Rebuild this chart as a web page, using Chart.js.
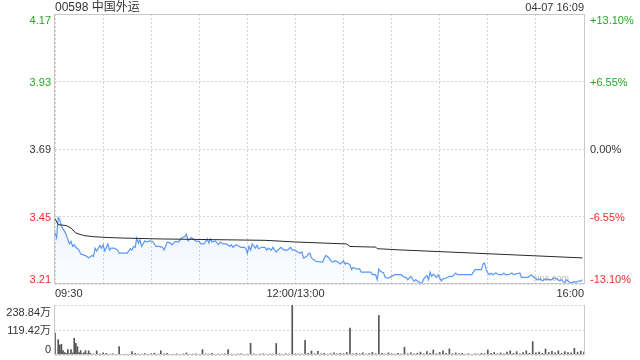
<!DOCTYPE html>
<html>
<head>
<meta charset="utf-8">
<script src="https://cdn.jsdelivr.net/npm/chart.js@4.4.1/dist/chart.umd.min.js"></script>
<style>
  html, body { margin: 0; padding: 0; background: #fff; }
  #wrap { position: relative; width: 640px; height: 360px; overflow: hidden;
          font-family: "Liberation Sans", Arial, "Noto Sans CJK SC", sans-serif; color: #333; }
  #price { position: absolute; left: 0; top: 0; }
  #vol   { position: absolute; left: 0; top: 296px; }
  .title { position: absolute; left: 55px; top: 0; font-size: 12px; line-height: 14px; }
  .stamp { position: absolute; right: 56px; top: 0; font-size: 11px; line-height: 14px; }
</style>
</head>
<body>
<div id="wrap">
  <canvas id="price" width="640" height="300"></canvas>
  <canvas id="vol" width="640" height="64"></canvas>
  <div class="title">00598 中国外运</div>
  <div class="stamp">04-07 16:09</div>
</div>
<script>
'use strict';

/* ── Data ─────────────────────────────────────────── */

var PREV_CLOSE = 3.69;
var LIMIT_PCT  = 0.131;
var VOL_MAX    = 238.84;

var priceTickLabels = ['4.17', '3.93', '3.69', '3.45', '3.21'];
var pctTickLabels   = ['+13.10%', '+6.55%', '0.00%', '-6.55%', '-13.10%'];
var volTickLabels   = ['238.84万', '119.42万', '0'];
var timeTickLabels  = ['09:30', '12:00/13:00', '16:00'];
var timeTickMinutes = [0, 150, 330];

/* minutes after 09:30, lunch break removed (150 = 12:00/13:00) */
var priceMinutes = [
  0, 1, 2, 3, 4, 6, 7, 9, 10, 11,
  12, 13, 15, 16, 18, 20, 21, 23, 24, 25,
  26, 28, 29, 30, 31, 33, 34, 35, 37, 39,
  40, 43, 45, 47, 48, 49, 50, 51, 52, 53,
  54, 56, 57, 59, 61, 63, 65, 67, 68, 70,
  72, 73, 75, 77, 79, 81, 82, 83, 85, 87,
  88, 90, 91, 93, 94, 95, 96, 97, 98, 100,
  102, 103, 105, 107, 109, 110, 111, 113, 115, 116,
  118, 119, 120, 121, 122, 123, 125, 126, 127, 129,
  131, 132, 133, 135, 136, 137, 138, 139, 141, 143,
  145, 147, 148, 150, 151, 153, 154, 155, 157, 158,
  159, 160, 162, 164, 167, 168, 169, 171, 172, 173,
  175, 176, 178, 180, 181, 182, 184, 185, 186, 188,
  190, 191, 197, 198, 200, 201, 202, 203, 205, 206,
  208, 210, 212, 216, 218, 219, 220, 222, 224, 225,
  226, 228, 229, 230, 232, 233, 234, 235, 236, 238,
  239, 241, 242, 244, 246, 248, 249, 250, 251, 260,
  262, 266, 267, 268, 269, 270, 271, 272, 273, 275,
  277, 279, 280, 281, 283, 285, 286, 290, 291, 295,
  297, 299, 301, 303, 304, 306, 308, 310, 311, 313,
  315, 316, 318, 319, 321, 322, 324, 325, 327, 328, 329
];
var prices = [
  3.390, 3.372, 3.445, 3.437, 3.413, 3.395, 3.383, 3.350, 3.359, 3.341,
  3.347, 3.338, 3.328, 3.314, 3.311, 3.305, 3.300, 3.309, 3.305, 3.335,
  3.325, 3.345, 3.335, 3.347, 3.325, 3.350, 3.328, 3.335, 3.335, 3.328,
  3.317, 3.317, 3.317, 3.333, 3.328, 3.341, 3.338, 3.371, 3.353, 3.365,
  3.341, 3.361, 3.357, 3.361, 3.359, 3.341, 3.341, 3.338, 3.328, 3.357,
  3.353, 3.347, 3.359, 3.357, 3.371, 3.377, 3.385, 3.361, 3.373, 3.365,
  3.359, 3.359, 3.350, 3.350, 3.359, 3.368, 3.353, 3.368, 3.357, 3.361,
  3.347, 3.357, 3.350, 3.350, 3.341, 3.347, 3.338, 3.347, 3.341, 3.338,
  3.338, 3.335, 3.317, 3.341, 3.328, 3.350, 3.335, 3.345, 3.333, 3.338,
  3.338, 3.328, 3.335, 3.328, 3.338, 3.328, 3.321, 3.328, 3.338, 3.328,
  3.328, 3.338, 3.328, 3.328, 3.322, 3.317, 3.322, 3.300, 3.305, 3.314,
  3.317, 3.300, 3.290, 3.287, 3.285, 3.300, 3.309, 3.300, 3.290, 3.285,
  3.290, 3.287, 3.278, 3.290, 3.278, 3.282, 3.276, 3.258, 3.266, 3.261,
  3.261, 3.249, 3.249, 3.240, 3.240, 3.222, 3.260, 3.252, 3.246, 3.230,
  3.228, 3.234, 3.240, 3.240, 3.230, 3.230, 3.222, 3.234, 3.216, 3.222,
  3.218, 3.210, 3.210, 3.225, 3.237, 3.222, 3.249, 3.234, 3.242, 3.230,
  3.240, 3.218, 3.225, 3.228, 3.234, 3.234, 3.240, 3.246, 3.240, 3.240,
  3.258, 3.258, 3.278, 3.282, 3.258, 3.246, 3.240, 3.246, 3.240, 3.246,
  3.240, 3.240, 3.246, 3.240, 3.240, 3.246, 3.240, 3.246, 3.230, 3.230,
  3.240, 3.230, 3.222, 3.225, 3.218, 3.225, 3.222, 3.222, 3.228, 3.225,
  3.218, 3.222, 3.210, 3.222, 3.213, 3.210, 3.216, 3.213, 3.218, 3.216, 3.222
];

var avgMinutes = [0, 2, 7, 10, 13, 18, 24, 33, 43, 65, 131, 150, 182, 184, 197, 200, 201, 214, 262, 329];
var avgPrices  = [3.440, 3.419, 3.416, 3.407, 3.389, 3.380, 3.376, 3.373, 3.371, 3.368,
                  3.363, 3.357, 3.350, 3.341, 3.339, 3.339, 3.333, 3.329, 3.317, 3.300];

var volMinutes = [
  0, 2, 3, 4, 5, 6, 7, 8, 9, 10, 11, 12, 13, 14, 15, 16, 17, 18, 19, 20, 21, 22,
  24, 26, 28, 30, 32, 34, 36, 38, 40, 42, 44, 46, 48, 50, 52, 54, 56, 58,
  60, 62, 64, 66, 68, 70, 72, 74, 76, 78, 80, 82, 84, 86, 88, 90, 92, 94, 96, 98,
  100, 102, 104, 106, 108, 110, 112, 114, 116, 118, 120, 122, 124, 126, 128, 130,
  132, 134, 136, 138, 140, 142, 144, 146, 148, 150, 152, 154, 156, 158, 160, 162,
  164, 166, 168, 170, 172, 174, 176, 178, 180, 182, 184, 186, 188, 190, 192, 194,
  196, 198, 200, 202, 204, 206, 208, 210, 212, 214, 216, 218, 220, 222, 224, 226,
  228, 230, 232, 234, 236, 238, 240, 242, 244, 246, 248, 250, 252, 254, 256, 258,
  260, 262, 264, 266, 268, 270, 272, 274, 276, 278, 280, 282, 284, 286, 288, 290,
  292, 294, 296, 298, 300, 302, 304, 306, 308, 310, 312, 314, 316, 318, 320, 322,
  324, 326, 328, 330
];
var volumes = [
  105, 73, 48, 51, 21, 12, 8, 26, 6, 26, 10, 80, 56, 40, 12, 21, 6, 10, 21, 5, 20, 8,
  5, 20, 6, 10, 8, 4, 6, 3, 40, 3, 4, 3, 16, 8, 5, 4, 7, 3,
  6, 9, 4, 20, 5, 8, 3, 4, 6, 3, 5, 10, 3, 4, 6, 3, 26, 5, 4, 8,
  3, 5, 4, 6, 26, 4, 3, 5, 6, 3, 4, 56, 5, 3, 4, 6,
  3, 5, 4, 55, 6, 3, 5, 4, 238.84, 6, 5, 4, 70, 8, 19, 6,
  18, 5, 8, 4, 6, 10, 5, 8, 6, 12, 129, 5, 8, 6, 10, 4,
  7, 12, 6, 189, 8, 5, 10, 6, 4, 8, 5, 37, 6, 10, 5, 8,
  14, 6, 16, 8, 24, 6, 12, 20, 8, 29, 6, 10, 5, 8, 4, 6,
  3, 5, 4, 8, 6, 24, 8, 12, 6, 10, 5, 14, 20, 8, 16, 6,
  12, 20, 8, 64, 10, 14, 8, 29, 12, 18, 10, 20, 8, 16, 12, 10,
  32, 12, 18, 14
];

/* ── Style ────────────────────────────────────────── */

var GREEN = '#22a822';
var RED   = '#ee2c2c';
var GRID  = '#d4d4d4';
var FRAME = '#c8c8c8';
var FONT  = '"Liberation Sans", Arial, "Noto Sans CJK SC", sans-serif';

function pairs(xs, ys) {
  return xs.map(function (x, i) { return { x: x, y: ys[i] }; });
}

var priceMin = PREV_CLOSE * (1 - LIMIT_PCT);
var priceMax = PREV_CLOSE * (1 + LIMIT_PCT);
/* top-to-bottom, matching the label arrays */
var priceTickValues = priceTickLabels.map(function (l, i) {
  return PREV_CLOSE * (1 + LIMIT_PCT * (2 - i) / 2);
});

/* ── Plugins ──────────────────────────────────────── */

var priceDecor = {
  id: 'priceDecor',
  beforeDatasetsDraw: function (chart) {
    var ctx = chart.ctx;
    ctx.save();
    ctx.font = '9px ' + FONT;
    ctx.fillStyle = '#bdbdbd';
    ctx.textAlign = 'left';
    ctx.textBaseline = 'alphabetic';
    ctx.fillText('sina.com', chart.chartArea.right - 51, chart.chartArea.bottom - 3);
    ctx.restore();
  },
  afterDraw: function (chart) {
    var ctx = chart.ctx, a = chart.chartArea, y = chart.scales.y;
    ctx.save();
    ctx.strokeStyle = FRAME;
    ctx.lineWidth = 1;
    ctx.strokeRect(Math.round(a.left) - 0.5, Math.round(a.top) + 0.5,
                   Math.round(a.right - a.left) + 1, Math.round(a.bottom - a.top) - 1);
    ctx.font = '11px ' + FONT;
    ctx.textBaseline = 'alphabetic';
    priceTickLabels.forEach(function (txt, i) {
      var py = y.getPixelForValue(priceTickValues[i]);
      var dy = i === 0 ? 10 : (i === priceTickLabels.length - 1 ? -1 : 4);
      ctx.fillStyle = i < 2 ? GREEN : (i > 2 ? RED : '#333');
      ctx.textAlign = 'right';
      ctx.fillText(txt, a.left - 4, py + dy);
      ctx.textAlign = 'left';
      ctx.fillText(pctTickLabels[i], a.right + 6, py + dy);
    });
    ctx.restore();
  }
};

var volDecor = {
  id: 'volDecor',
  afterDraw: function (chart) {
    var ctx = chart.ctx, a = chart.chartArea, y = chart.scales.y;
    var l = Math.round(a.left) - 0.5, r = Math.round(a.right) + 0.5, b = Math.round(a.bottom) - 0.5;
    ctx.save();
    ctx.strokeStyle = FRAME;
    ctx.lineWidth = 1;
    ctx.beginPath();
    ctx.moveTo(l, Math.round(a.top));
    ctx.lineTo(l, b);
    ctx.lineTo(r, b);
    ctx.lineTo(r, Math.round(a.top));
    ctx.stroke();
    ctx.font = '11px ' + FONT;
    ctx.fillStyle = '#333';
    ctx.textAlign = 'right';
    ctx.textBaseline = 'alphabetic';
    var vals = [VOL_MAX, VOL_MAX / 2, 0];
    var offs = [10.5, 4, -2.5];
    volTickLabels.forEach(function (txt, i) {
      ctx.fillText(txt, a.left - 4, y.getPixelForValue(vals[i]) + offs[i]);
    });
    ctx.restore();
  }
};

/* ── Price chart ──────────────────────────────────── */

new Chart(document.getElementById('price'), {
  type: 'line',
  data: {
    datasets: [
      {
        label: 'avg',
        data: pairs(avgMinutes, avgPrices),
        borderColor: '#2a2a2a',
        borderWidth: 1,
        pointRadius: 0,
        fill: false,
        order: 0
      },
      {
        label: 'price',
        data: pairs(priceMinutes, prices),
        borderColor: '#5b98f2',
        borderWidth: 1.2,
        pointRadius: 0,
        fill: 'start',
        backgroundColor: function (c) {
          var a = c.chart.chartArea;
          if (!a) return 'rgba(91,152,242,0.06)';
          var g = c.chart.ctx.createLinearGradient(0, a.bottom - 75, 0, a.bottom);
          g.addColorStop(0, 'rgba(91,152,242,0.12)');
          g.addColorStop(1, 'rgba(91,152,242,0.02)');
          return g;
        },
        order: 1
      }
    ]
  },
  options: {
    responsive: false,
    devicePixelRatio: 1,
    animation: false,
    events: [],
    layout: { padding: { top: 14, right: 56, left: 0, bottom: 0 } },
    plugins: { legend: { display: false }, tooltip: { enabled: false } },
    scales: {
      x: {
        type: 'linear',
        min: 0,
        max: 330,
        afterBuildTicks: function (s) {
          var t = [];
          for (var v = 0; v <= 330; v += 30) t.push({ value: v });
          s.ticks = t;
        },
        afterFit: function (s) { s.height = 16; },
        grid: { color: GRID, drawTicks: false },
        border: { display: false, dash: [2, 2] },
        ticks: {
          autoSkip: false,
          maxRotation: 0,
          align: 'inner',
          padding: 3,
          color: '#333',
          font: { family: FONT, size: 11 },
          callback: function (v) {
            var i = timeTickMinutes.indexOf(v);
            return i < 0 ? '' : timeTickLabels[i];
          }
        }
      },
      y: {
        min: priceMin,
        max: priceMax,
        afterBuildTicks: function (s) {
          s.ticks = priceTickValues.slice().reverse().map(function (v) { return { value: v }; });
        },
        afterFit: function (s) { s.width = 55; },
        grid: { color: GRID, drawTicks: false },
        border: { display: false, dash: [2, 2] },
        ticks: { display: false }
      }
    }
  },
  plugins: [priceDecor]
});

/* ── Volume chart ─────────────────────────────────── */

new Chart(document.getElementById('vol'), {
  type: 'bar',
  data: {
    datasets: [{
      data: pairs(volMinutes, volumes),
      backgroundColor: '#555',
      borderWidth: 0,
      barThickness: 1
    }]
  },
  options: {
    responsive: false,
    devicePixelRatio: 1,
    animation: false,
    events: [],
    layout: { padding: { top: 9, right: 56, left: 0, bottom: 5 } },
    plugins: { legend: { display: false }, tooltip: { enabled: false } },
    scales: {
      x: { type: 'linear', min: 0, max: 330, offset: false, display: false },
      y: {
        min: 0,
        max: VOL_MAX,
        afterBuildTicks: function (s) {
          s.ticks = [{ value: 0 }, { value: VOL_MAX / 2 }, { value: VOL_MAX }];
        },
        afterFit: function (s) { s.width = 55; },
        grid: { color: GRID, drawTicks: false },
        border: { display: false, dash: [2, 2] },
        ticks: { display: false }
      }
    }
  },
  plugins: [volDecor]
});
</script>
</body>
</html>
